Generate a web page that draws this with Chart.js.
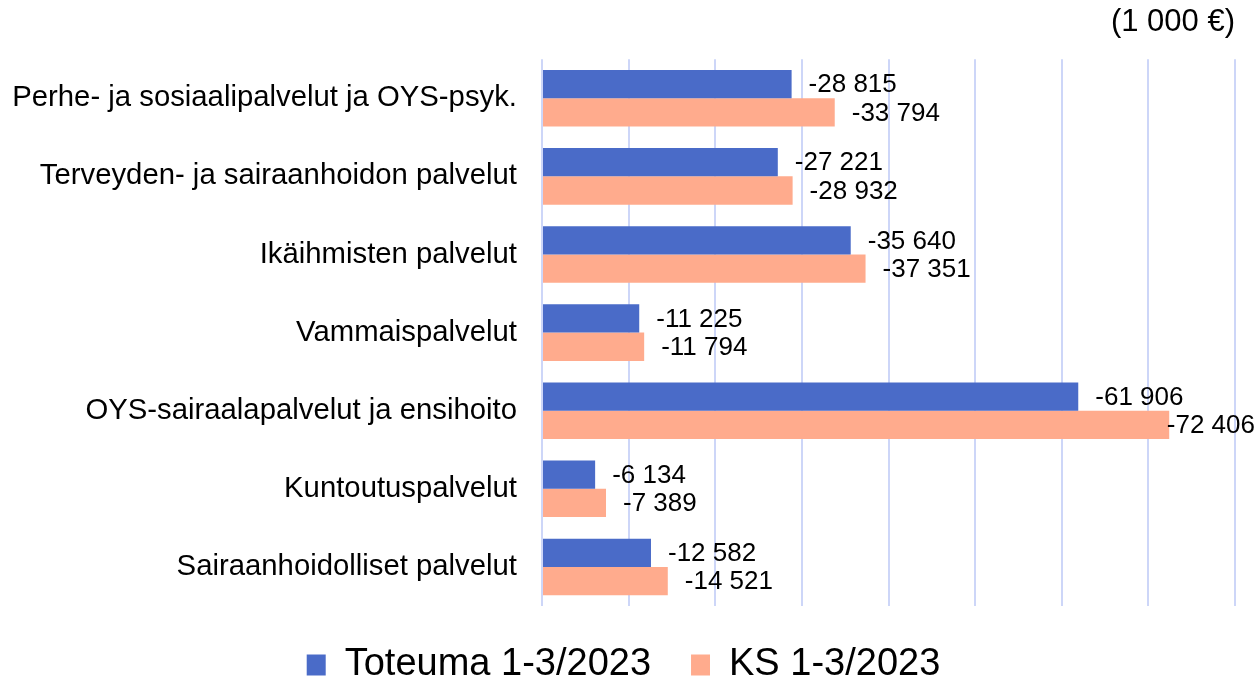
<!DOCTYPE html>
<html>
<head>
<meta charset="utf-8">
<script src="https://cdn.jsdelivr.net/npm/chart.js@4"></script>
<style>
  html, body { margin: 0; padding: 0; background: #fff; }
</style>
</head>
<body>
<canvas id="bar" width="1258" height="680"></canvas>
<script>
const categories = [
  "Perhe- ja sosiaalipalvelut ja OYS-psyk.",
  "Terveyden- ja sairaanhoidon palvelut",
  "Ikäihmisten palvelut",
  "Vammaispalvelut",
  "OYS-sairaalapalvelut ja ensihoito",
  "Kuntoutuspalvelut",
  "Sairaanhoidolliset palvelut"
];
const toteuma = [-28815, -27221, -35640, -11225, -61906, -6134, -12582];
const ks = [-33794, -28932, -37351, -11794, -72406, -7389, -14521];
const seriesNames = ["Toteuma 1-3/2023", "KS 1-3/2023"];
const unitLabel = "(1 000 €)";

const FONT = "'Liberation Sans', Arial, sans-serif";

function fmt(v) {
  const s = Math.abs(v).toString().replace(/\B(?=(\d{3})+(?!\d))/g, " ");
  return (v < 0 ? "-" : "") + s;
}

// value labels next to bar ends
const valueLabels = {
  id: "valueLabels",
  afterDatasetsDraw(chart) {
    const ctx = chart.ctx;
    ctx.save();
    ctx.font = "26px " + FONT;
    ctx.fillStyle = "#000";
    ctx.textBaseline = "middle";
    chart.data.datasets.forEach((ds, di) => {
      chart.getDatasetMeta(di).data.forEach((bar, i) => {
        const txt = fmt(ds.data[i]);
        const w = ctx.measureText(txt).width;
        let x = bar.x + 17;
        if (x + w > chart.width - 3) x = chart.width - 3 - w;
        ctx.fillText(txt, x, bar.y + 1);
      });
    });
    ctx.restore();
  }
};

const ctx = document.getElementById("bar").getContext("2d");

new Chart(ctx, {
  type: "bar",
  data: {
    labels: categories,
    datasets: [
      { label: seriesNames[0], data: toteuma, backgroundColor: "#4a6bc8" },
      { label: seriesNames[1], data: ks, backgroundColor: "#ffab8d" }
    ]
  },
  options: {
    indexAxis: "y",
    responsive: false,
    animation: false,
    categoryPercentage: 0.724,
    barPercentage: 1.0,
    layout: { padding: { left: 12, right: 23, top: 0, bottom: -14 } },
    scales: {
      x: {
        type: "linear",
        reverse: true,
        min: -80000,
        max: 0,
        ticks: { display: false, stepSize: 10000 },
        grid: { color: "#cdd6f8", lineWidth: 2, drawTicks: false },
        border: { display: false }
      },
      y: {
        afterFit(scale) { scale.width = 530; },
        grid: { display: false, drawTicks: false },
        border: { display: false },
        ticks: { color: "#000", padding: 25, font: { family: FONT, size: 29.3 } }
      }
    },
    plugins: {
      title: {
        display: true,
        text: unitLabel,
        align: "end",
        color: "#000",
        font: { family: FONT, size: 31, weight: "normal" },
        padding: { top: 4, bottom: 18 }
      },
      legend: {
        position: "bottom",
        labels: {
          color: "#000",
          font: { family: FONT, size: 38 },
          boxWidth: 19,
          boxHeight: 21,
          padding: 40
        }
      },
      tooltip: { enabled: false }
    }
  },
  plugins: [valueLabels]
});
</script>
</body>
</html>
